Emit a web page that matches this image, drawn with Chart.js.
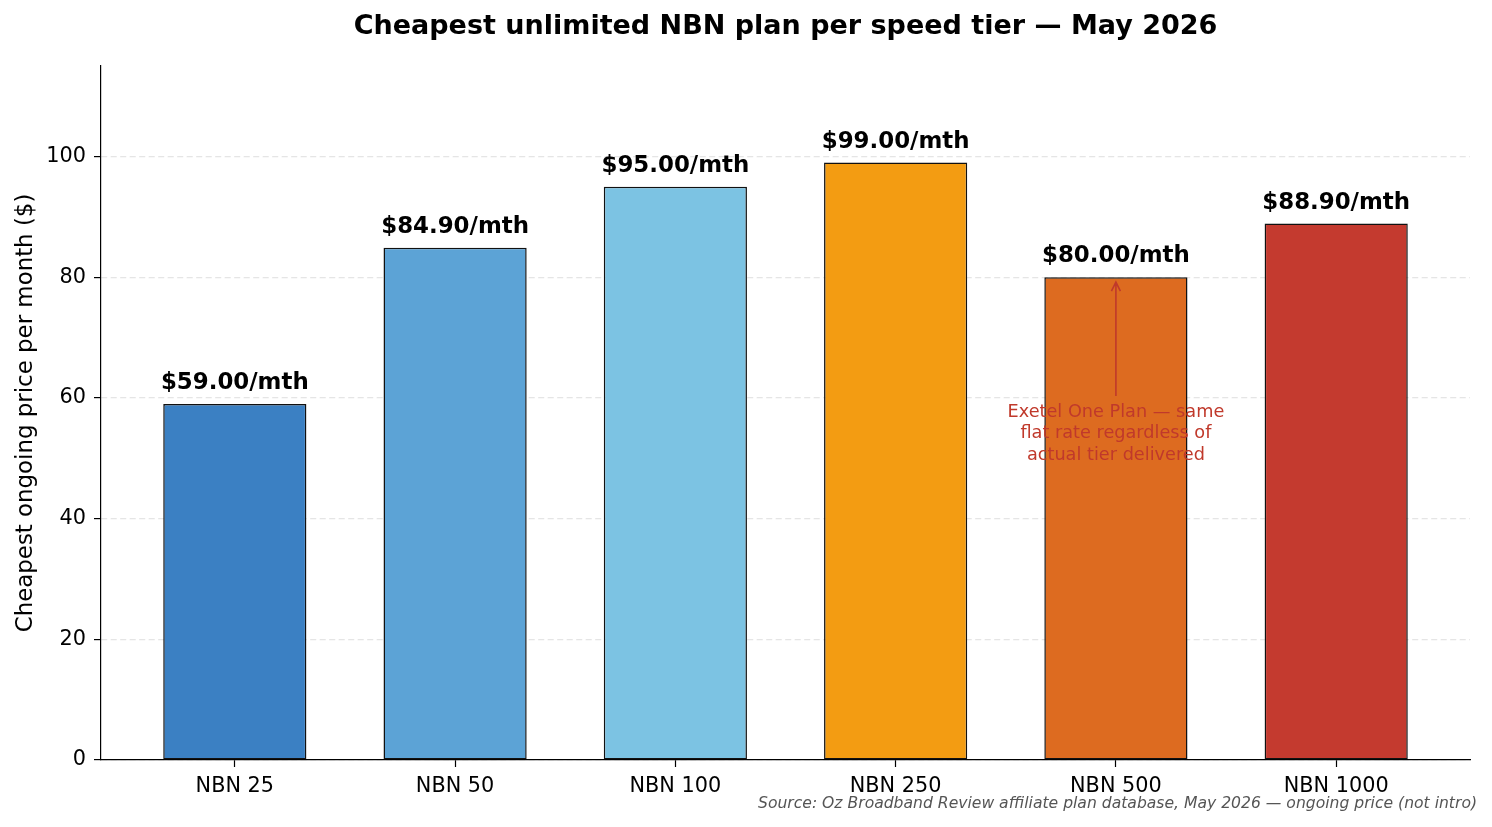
<!DOCTYPE html>
<html>
<head>
<meta charset="utf-8">
<script src="https://cdn.jsdelivr.net/npm/chart.js@4.4.1/dist/chart.umd.min.js"></script>
<style>
  body { margin: 0; background: #fff; }
  canvas { display: block; }
</style>
</head>
<body>
<canvas id="myChart" width="1492" height="827"></canvas>
<script>
// data
var tiers = ['NBN 25', 'NBN 50', 'NBN 100', 'NBN 250', 'NBN 500', 'NBN 1000'];
var prices = [59.00, 84.90, 95.00, 99.00, 80.00, 88.90];
var barColors = ['#3b80c3', '#5ca3d6', '#7cc3e3', '#f39c12', '#dd6b20', '#c43a2f'];
var yTicks = [0, 20, 40, 60, 80, 100];

var noteLines = ['Exetel One Plan \u2014 same', 'flat rate regardless of', 'actual tier delivered'];
var noteTier = 4;
var noteTip = 79.2;
var noteTail = 60.3;

var titleText = 'Cheapest unlimited NBN plan per speed tier \u2014 May 2026';
var sourceText = 'Source: Oz Broadband Review affiliate plan database, May 2026 \u2014 ongoing price (not intro)';

Chart.defaults.font.family = "'DejaVu Sans', sans-serif";
Chart.defaults.color = '#000';

var extras = {
    id: 'extras',
    afterDraw: function (chart) {
        var ctx = chart.ctx;
        var xs = chart.scales.x, ys = chart.scales.y;
        ctx.save();

        // value labels
        ctx.font = "bold 22.9px 'DejaVu Sans'";
        ctx.fillStyle = '#000';
        ctx.textAlign = 'center';
        ctx.textBaseline = 'alphabetic';
        chart.getDatasetMeta(0).data.forEach(function (bar, i) {
            ctx.fillText('$' + prices[i].toFixed(2) + '/mth', bar.x, bar.y - 15);
        });

        // annotation arrow
        var ax = xs.getPixelForValue(noteTier);
        var tipY = ys.getPixelForValue(noteTip);
        var tailY = ys.getPixelForValue(noteTail);
        ctx.strokeStyle = '#c0392b';
        ctx.lineWidth = 1.6;
        ctx.beginPath();
        ctx.moveTo(ax, tailY);
        ctx.lineTo(ax, tipY);
        ctx.moveTo(ax - 4.5, tipY + 9);
        ctx.lineTo(ax, tipY);
        ctx.lineTo(ax + 4.5, tipY + 9);
        ctx.stroke();

        ctx.font = "17.7px 'DejaVu Sans'";
        ctx.fillStyle = '#c0392b';
        noteLines.forEach(function (line, i) {
            ctx.fillText(line, ax, tailY + 21 + i * 21.2);
        });

        // source note
        ctx.font = "italic 15.6px 'DejaVu Sans'";
        ctx.fillStyle = '#555';
        ctx.textAlign = 'right';
        ctx.fillText(sourceText, 1477, 808);
        ctx.restore();
    }
};

document.addEventListener('DOMContentLoaded', function () {
    var ctx = document.getElementById('myChart').getContext('2d');
    var myChart = new Chart(ctx, {
        type: 'bar',
        data: {
            datasets: [{
                data: prices.map(function (p, i) { return { x: i, y: p }; }),
                backgroundColor: barColors,
                borderColor: '#111',
                borderWidth: 1.5,
                borderSkipped: false,
                barPercentage: 0.65,
                categoryPercentage: 1
            }]
        },
        options: {
            responsive: false,
            animation: false,
            layout: { padding: { left: 0, right: 22, top: 0, bottom: 0 } },
            plugins: {
                legend: { display: false },
                tooltip: { enabled: false },
                title: {
                    display: true,
                    fullSize: false,
                    text: titleText,
                    color: '#000',
                    font: { size: 27, weight: 'bold' },
                    padding: { top: 10.8, bottom: 22.8 }
                }
            },
            scales: {
                x: {
                    type: 'linear',
                    min: -0.6075,
                    max: 5.6075,
                    offset: false,
                    afterBuildTicks: function (s) {
                        s.ticks = tiers.map(function (t, i) { return { value: i }; });
                    },
                    ticks: {
                        callback: function (v) { return tiers[v]; },
                        font: { size: 20.8 },
                        color: '#000',
                        padding: 7,
                        autoSkip: false,
                        maxRotation: 0
                    },
                    grid: { drawOnChartArea: false, offset: false, tickLength: 7, tickColor: '#000', tickWidth: 1.2 },
                    border: { color: '#000', width: 1.2 },
                    afterFit: function (s) { s.height = 67; }
                },
                y: {
                    min: 0,
                    max: 115,
                    z: 1,
                    afterBuildTicks: function (s) {
                        s.ticks = yTicks.map(function (v) { return { value: v }; });
                    },
                    ticks: { font: { size: 20.8 }, color: '#000', padding: 8 },
                    grid: { color: 'rgba(204,204,204,0.5)', lineWidth: 1.2, tickLength: 7, tickColor: '#000', tickWidth: 1.2 },
                    border: { color: '#000', width: 1.2, dash: [6, 3.5] },
                    title: {
                        display: true,
                        text: 'Cheapest ongoing price per month ($)',
                        color: '#000',
                        font: { size: 22.9 },
                        padding: { top: 12 }
                    },
                    afterFit: function (s) { s.width = 101; }
                }
            }
        },
        plugins: [extras]
    });
});
</script>
</body>
</html>
